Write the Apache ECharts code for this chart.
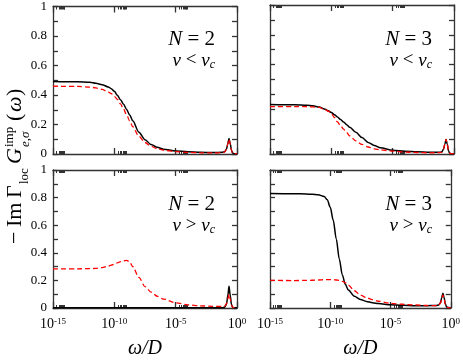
<!DOCTYPE html>
<html>
<head>
<meta charset="utf-8">
<script src="https://cdn.jsdelivr.net/npm/echarts@6/dist/echarts.min.js"></script>
<style>
  html, body { margin: 0; background: #fff; }
  #chart { width: 463px; height: 360px; }
</style>
</head>
<body>
<div id="chart"></div>
<script>
// log10(omega / D)
const logOmega = [-15, -13, -12, -11.5, -11, -10.5, -10.25, -10, -9.75, -9.5, -9.25, -9, -8.75, -8.5, -8, -7.5, -7,
  -6.5, -6, -5, -4, -3, -2, -1.2, -1, -0.85, -0.75, -0.65, -0.55, -0.45, -0.35, -0.2, 0];

// N = 2, v < vc
const n2BelowBlack = [.492, .49, .486, .479, .47, .455, .443, .425, .398, .368, .338, .302, .265, .225, .148, .097, .064,
  .045, .033, .021, .015, .012, .01, .012, .016, .035, .07, .105, .07, .025, .006, .002, .001];
const n2BelowRed = [.46, .458, .454, .448, .438, .42, .41, .39, .37, .34, .305, .265, .225, .185, .12, .078, .052,
  .036, .026, .016, .011, .008, .007, .009, .014, .033, .068, .1, .068, .024, .006, .002, .001];
// N = 3, v < vc
const n3BelowBlack = [.333, .331, .328, .323, .315, .3, .29, .278, .264, .249, .232, .215, .197, .18, .146, .11, .078,
  .057, .042, .025, .019, .015, .012, .011, .014, .033, .065, .098, .065, .022, .005, .002, .001];
const n3BelowRed = [.318, .318, .318, .316, .313, .298, .288, .272, .245, .215, .19, .167, .143, .122, .088, .064, .047,
  .035, .028, .019, .013, .01, .008, .009, .013, .033, .066, .1, .066, .022, .005, .002, .001];
// N = 2, v > vc
const n2AboveBlack = [.001, .001, .001, .001, .001, .001, .001, .001, .001, .001, .001, .001, .001, .001, .001, .001, .001,
  .001, .001, .001, .001, .001, .001, .002, .006, .03, .09, .157, .09, .025, .005, .001, .001];
const n2AboveRed = [.284, .284, .285, .287, .293, .303, .31, .318, .327, .336, .342, .345, .335, .3, .222, .155, .115,
  .085, .065, .038, .022, .016, .012, .011, .014, .03, .065, .1, .065, .022, .005, .002, .001];
// N = 3, v > vc
const n3AboveBlack = [.829, .828, .826, .824, .82, .808, .785, .73, .635, .5, .355, .24, .172, .13, .085, .062, .048,
  .038, .032, .024, .02, .017, .017, .018, .022, .04, .075, .107, .075, .03, .008, .003, .001];
const n3AboveRed = [.2, .199, .2, .201, .203, .205, .206, .206, .205, .203, .2, .193, .184, .166, .125, .094, .075,
  .06, .049, .034, .027, .022, .018, .017, .02, .035, .065, .095, .065, .025, .006, .002, .001];

const xMajor = [-15, -10, -5, 0];

const panels = [
  {left: 53, top: 5, black: n2BelowBlack, red: n2BelowRed, n: '2', rel: '<', xLabels: false, yLabels: true},
  {left: 270, top: 5, black: n3BelowBlack, red: n3BelowRed, n: '3', rel: '<', xLabels: false, yLabels: false},
  {left: 53, top: 170, black: n2AboveBlack, red: n2AboveRed, n: '2', rel: '>', xLabels: true, yLabels: true},
  {left: 270, top: 170, black: n3AboveBlack, red: n3AboveRed, n: '3', rel: '>', xLabels: true, yLabels: false}
];
const panelW = 184, panelH = 149;

// minor ticks of the log axis: 2..9 inside the decade after each labelled decade
const minorTicks = [];
xMajor.slice(0, 3).forEach(d => {
  for (let k = 2; k <= 9; k++) minorTicks.push(d + Math.log10(k));
});

const serif = 'Liberation Serif';
const frame = {color: '#333', width: 1.3};

const grid = [], xAxis = [], yAxis = [], series = [], graphic = [];

panels.forEach((p, i) => {
  grid.push({left: p.left, top: p.top, width: panelW, height: panelH});
  const base = {
    gridIndex: i, type: 'value', min: xMajor[0], max: xMajor[xMajor.length - 1], interval: 5,
    splitLine: {show: false}
  };
  xAxis.push({
    ...base, position: 'bottom',
    axisLine: {onZero: false, lineStyle: frame},
    axisTick: {inside: true, length: 6, lineStyle: frame},
    axisLabel: {
      show: p.xLabels, margin: 9, color: '#000',
      formatter: v => '{b|10}{s|' + Math.round(v) + '}',
      rich: {
        b: {fontFamily: serif, fontSize: 14, color: '#000', verticalAlign: 'bottom'},
        s: {fontFamily: serif, fontSize: 9, color: '#000', verticalAlign: 'top'}
      }
    },
    name: p.xLabels ? 'ω/D' : '', nameLocation: 'middle', nameGap: 31,
    nameTextStyle: {fontFamily: serif, fontStyle: 'italic', fontSize: 20, color: '#000'}
  });
  xAxis.push({
    ...base, position: 'top',
    axisLine: {onZero: false, lineStyle: frame},
    axisTick: {inside: true, length: 6, lineStyle: frame},
    axisLabel: {show: false}
  });
  ['bottom', 'top'].forEach(pos => {
    xAxis.push({
      ...base, position: pos,
      axisLine: {show: false, onZero: false},
      axisTick: {inside: true, length: 3, customValues: minorTicks, lineStyle: {color: '#333', width: 1}},
      axisLabel: {show: false}
    });
  });
  ['left', 'right'].forEach(pos => {
    yAxis.push({
      gridIndex: i, type: 'value', min: 0, max: 1, interval: 0.2, position: pos,
      splitLine: {show: false},
      axisLine: {show: true, onZero: false, lineStyle: frame},
      axisTick: {inside: true, length: 5, lineStyle: frame},
      minorTick: {show: true, splitNumber: 2, length: 5, lineStyle: {color: '#333', width: 1.3}},
      axisLabel: {
        show: pos === 'left' && p.yLabels, margin: 6, color: '#000',
        fontFamily: serif, fontSize: 13
      }
    });
  });
  series.push({
    type: 'line', xAxisIndex: 4 * i, yAxisIndex: 2 * i, showSymbol: false, smooth: 0.3, smoothMonotone: 'x',
    lineStyle: {color: '#000', width: 1.5},
    data: logOmega.map((x, j) => [x, p.black[j]])
  });
  series.push({
    type: 'line', xAxisIndex: 4 * i, yAxisIndex: 2 * i, showSymbol: false, smooth: 0.3, smoothMonotone: 'x',
    lineStyle: {color: '#ff0000', width: 1.3, type: [5, 3]},
    data: logOmega.map((x, j) => [x, p.red[j]])
  });

  const right = p.left + panelW - 22;
  graphic.push({
    type: 'text', right: 463 - right, top: p.top + 24,
    style: {
      text: '{i|N} = ' + p.n,
      rich: {i: {fontFamily: serif, fontStyle: 'italic', fontSize: 21, fill: '#000'}},
      fontFamily: serif, fontSize: 21, fill: '#000'
    }
  });
  graphic.push({
    type: 'text', right: 463 - right, top: p.top + 46,
    style: {
      text: '{i|v} ' + p.rel + ' {i|v}{c|c}',
      rich: {
        i: {fontFamily: serif, fontStyle: 'italic', fontSize: 19, fill: '#000'},
        c: {fontFamily: serif, fontStyle: 'italic', fontSize: 12, fill: '#000', verticalAlign: 'bottom', padding: [8, 0, 0, 0]}
      },
      fontFamily: serif, fontSize: 19, fill: '#000'
    }
  });
});

// rotated y-axis title: −Im Γ_loc G^imp_{e,σ}(ω)
const titleParts = [
  {t: '−', x: 0, y: 0, size: 22, italic: false},
  {t: 'Im', x: 17, y: 0, size: 22, italic: false},
  {t: 'Γ', x: 46, y: 0, size: 22, italic: false},
  {t: 'loc', x: 60, y: 5, size: 13, italic: false},
  {t: 'G', x: 80, y: 0, size: 22, italic: true},
  {t: 'imp', x: 97, y: -10, size: 13, italic: false},
  {t: 'e,σ', x: 97, y: 6, size: 13, italic: true},
  {t: '(', x: 123, y: 0, size: 22, italic: false},
  {t: 'ω', x: 132, y: 0, size: 22, italic: true},
  {t: ')', x: 148, y: 0, size: 22, italic: false}
];
graphic.push({
  type: 'group', x: 26, y: 244, rotation: Math.PI / 2,
  children: titleParts.map(s => ({
    type: 'text',
    style: {
      x: s.x, y: s.y, text: s.t, fill: '#000', fontFamily: serif, fontSize: s.size,
      fontStyle: s.italic ? 'italic' : 'normal', verticalAlign: 'bottom'
    }
  }))
});

const chart = echarts.init(document.getElementById('chart'));
chart.setOption({
  backgroundColor: '#fff',
  animation: false,
  grid, xAxis, yAxis, series, graphic
});
</script>
</body>
</html>
